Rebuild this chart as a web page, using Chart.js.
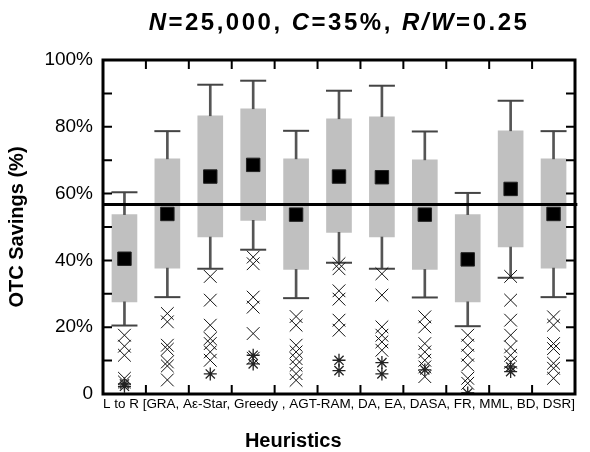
<!DOCTYPE html>
<html>
<head>
<meta charset="utf-8">
<script src="https://cdn.jsdelivr.net/npm/chart.js@4/dist/chart.umd.min.js"></script>
<style>
  body { margin: 0; background: #fff; }
  #wrap { width: 590px; height: 452px; }
</style>
</head>
<body>
<div id="wrap"><canvas id="grafica"></canvas></div>
<script>
var heuristicas = ['GRA', 'Aε-Star', 'Greedy', 'AGT-RAM', 'DA', 'EA', 'DASA', 'FR', 'MML', 'BD', 'DSR'];
var bigoteArriba = [60.4, 78.7, 92.6, 93.8, 78.8, 90.8, 92.3, 78.6, 60.2, 87.8, 78.7];
var cajaArriba = [53.7, 70.4, 83.3, 85.4, 70.4, 82.4, 83.0, 70.1, 53.7, 78.8, 70.4];
var media = [40.5, 53.9, 65.1, 68.6, 53.7, 65.1, 64.9, 53.7, 40.3, 61.4, 53.9];
var cajaAbajo = [27.6, 37.7, 47.0, 52.0, 37.3, 48.4, 47.0, 37.3, 27.6, 44.0, 37.7];
var bigoteAbajo = [20.5, 29.0, 37.5, 43.2, 28.7, 39.3, 37.5, 28.9, 20.3, 34.8, 29.0];
var atipicos = [
    [17.6, 14.3, 11.6, 4.7, 3.6],
    [24.1, 21.6, 14.6, 13.4, 9.6, 8.4, 4.2],
    [35.2, 28.1, 20.6, 16.6, 15.1, 12.6, 10.1],
    [41.0, 39.0, 29.0, 26.0, 18.1, 10.7],
    [23.2, 20.6, 14.6, 12.6, 10.6, 8.6, 6.1, 4.1],
    [39.0, 37.5, 30.9, 28.4, 22.1, 19.1],
    [36.0, 29.6, 20.1, 17.6, 15.6, 13.1],
    [23.1, 20.1, 15.1, 12.6, 10.1, 8.1, 5.2],
    [17.6, 14.6, 11.6, 8.7, 4.7, 3.2],
    [35.2, 28.1, 22.1, 17.6, 14.1, 11.6, 9.5],
    [23.1, 20.6, 15.1, 13.6, 9.2, 7.7, 4.7]
];
var extremos = [
    [3.0, 2.3], [], [6.0], [11.6, 9.0], [], [10.1, 7.0],
    [9.4, 6.0], [7.2], [0.3], [8.1, 6.7], []
];
var referencia = 56.7;
var etiquetasY = [0, 20, 40, 60, 80, 100];

var fuente = '"Liberation Sans", Arial, sans-serif';

function puntos(lista) {
    var out = [];
    for (var i = 0; i < lista.length; i++) {
        for (var j = 0; j < lista[i].length; j++) {
            out.push({x: heuristicas[i], y: lista[i][j]});
        }
    }
    return out;
}

function porCategoria(valores) {
    return valores.map(function (v, i) { return {x: heuristicas[i], y: v}; });
}

var cajas = {
    type: 'bar',
    data: cajaAbajo.map(function (v, i) { return [v, cajaArriba[i]]; }),
    backgroundColor: '#c0c0c0',
    barThickness: 25,
    grouped: false,
    order: 6
};

var bigoteSup = {
    type: 'bar',
    data: cajaArriba.map(function (v, i) { return [v, bigoteArriba[i]]; }),
    backgroundColor: '#555',
    barThickness: 2,
    grouped: false,
    order: 5
};

var bigoteInf = {
    type: 'bar',
    data: bigoteAbajo.map(function (v, i) { return [v, cajaAbajo[i]]; }),
    backgroundColor: '#555',
    barThickness: 2,
    grouped: false,
    order: 5
};

function topes(valores) {
    return {
        type: 'line',
        data: porCategoria(valores),
        showLine: false,
        pointStyle: 'line',
        pointRadius: 13,
        borderColor: '#444',
        borderWidth: 2,
        order: 4
    };
}

var medias = {
    type: 'line',
    data: porCategoria(media),
    showLine: false,
    pointStyle: 'rect',
    pointRadius: 9.5,
    backgroundColor: '#000',
    borderColor: '#222',
    borderWidth: 1,
    order: 1
};

var equis = {
    type: 'line',
    data: puntos(atipicos),
    showLine: false,
    pointStyle: 'crossRot',
    pointRadius: 9,
    borderColor: '#111',
    borderWidth: 1,
    order: 3
};

var estrellas = {
    type: 'line',
    data: puntos(extremos),
    showLine: false,
    pointStyle: 'star',
    pointRadius: 6.5,
    borderColor: '#222',
    borderWidth: 1.3,
    order: 2
};

// linea de referencia, va sobre un eje lineal oculto que cubre todo el ancho
var linea = {
    type: 'line',
    xAxisID: 'xr',
    data: [{x: 0, y: referencia}, {x: 1.005, y: referencia}],
    borderColor: '#000',
    borderWidth: 3,
    pointRadius: 0,
    clip: 4,
    order: 0
};

var tituloPartes = [['N', true], ['=25,000, ', false], ['C', true], ['=35%, ', false], ['R/W', true], ['=0.25', false]];

var marco = {
    id: 'marco',
    afterDatasetsDraw: function (chart) {
        var ctx = chart.ctx, a = chart.chartArea, y = chart.scales.y, x = chart.scales.x;
        ctx.save();
        ctx.strokeStyle = '#000';
        ctx.lineWidth = 2;
        ctx.beginPath();
        for (var v = 10; v < 100; v += 10) {
            var py = y.getPixelForValue(v);
            ctx.moveTo(a.left, py); ctx.lineTo(a.left + 9, py);
            ctx.moveTo(a.right, py); ctx.lineTo(a.right - 9, py);
        }
        for (var i = 0; i < heuristicas.length - 1; i++) {
            var px = (x.getPixelForValue(i) + x.getPixelForValue(i + 1)) / 2;
            ctx.moveTo(px, a.top); ctx.lineTo(px, a.top + 9);
            ctx.moveTo(px, a.bottom); ctx.lineTo(px, a.bottom - 9);
        }
        ctx.stroke();
        ctx.lineWidth = 3;
        ctx.strokeRect(a.left, a.top, a.right - a.left, a.bottom - a.top);
        ctx.restore();
    },
    afterDraw: function (chart) {
        var ctx = chart.ctx, a = chart.chartArea;
        ctx.save();
        ctx.fillStyle = '#000';
        ctx.textBaseline = 'alphabetic';
        if ('letterSpacing' in ctx) ctx.letterSpacing = '2.5px';
        var total = 0, anchos = [];
        tituloPartes.forEach(function (p) {
            ctx.font = (p[1] ? 'italic ' : '') + 'bold 24px ' + fuente;
            var w = ctx.measureText(p[0]).width;
            anchos.push(w);
            total += w;
        });
        var cx = (a.left + a.right) / 2 - total / 2;
        tituloPartes.forEach(function (p, i) {
            ctx.font = (p[1] ? 'italic ' : '') + 'bold 24px ' + fuente;
            ctx.fillText(p[0], cx, 30);
            cx += anchos[i];
        });
        ctx.restore();
    }
};

var config = {
    type: 'bar',
    data: {
        labels: heuristicas,
        datasets: [cajas, bigoteSup, bigoteInf, topes(bigoteArriba), topes(bigoteAbajo), equis, estrellas, medias, linea]
    },
    options: {
        responsive: true,
        maintainAspectRatio: false,
        animation: false,
        events: [],
        layout: { padding: { top: 60, right: 3.5, left: 0, bottom: 0 } },
        plugins: {
            legend: { display: false },
            tooltip: { enabled: false },
            title: {
                display: true,
                text: 'Heuristics',
                position: 'bottom',
                color: '#000',
                font: { family: fuente, size: 20, weight: 'bold' },
                padding: { top: 1.5, bottom: -1.5 }
            }
        },
        scales: {
            x: {
                type: 'category',
                offset: true,
                grid: { display: false, drawTicks: false },
                border: { display: false },
                ticks: { display: false },
                title: {
                    display: true,
                    text: 'L to R [GRA, Aε-Star, Greedy , AGT-RAM, DA, EA, DASA, FR, MML, BD, DSR]',
                    color: '#000',
                    font: { family: fuente, size: 13.5 },
                    padding: { top: 16, bottom: 16 }
                },
                afterFit: function (s) { s.height = 34; }
            },
            xr: {
                type: 'linear',
                display: false,
                offset: false,
                grid: { offset: false },
                min: 0,
                max: 1
            },
            y: {
                min: 0,
                max: 100,
                grid: { display: false, drawTicks: false },
                border: { display: false },
                afterBuildTicks: function (s) {
                    s.ticks = etiquetasY.map(function (v) { return {value: v}; });
                },
                ticks: {
                    color: '#000',
                    padding: 10,
                    font: { family: fuente, size: 19 },
                    callback: function (v) { return v === 0 ? '0' : v + '%'; }
                },
                title: {
                    display: true,
                    text: 'OTC Savings (%)',
                    color: '#000',
                    font: { family: fuente, size: 20, weight: 'bold' },
                    padding: { top: 5, bottom: 5 }
                },
                afterFit: function (s) { s.width = 103; }
            }
        }
    },
    plugins: [marco]
};

var grafica = new Chart(document.getElementById('grafica'), config);
</script>
</body>
</html>
